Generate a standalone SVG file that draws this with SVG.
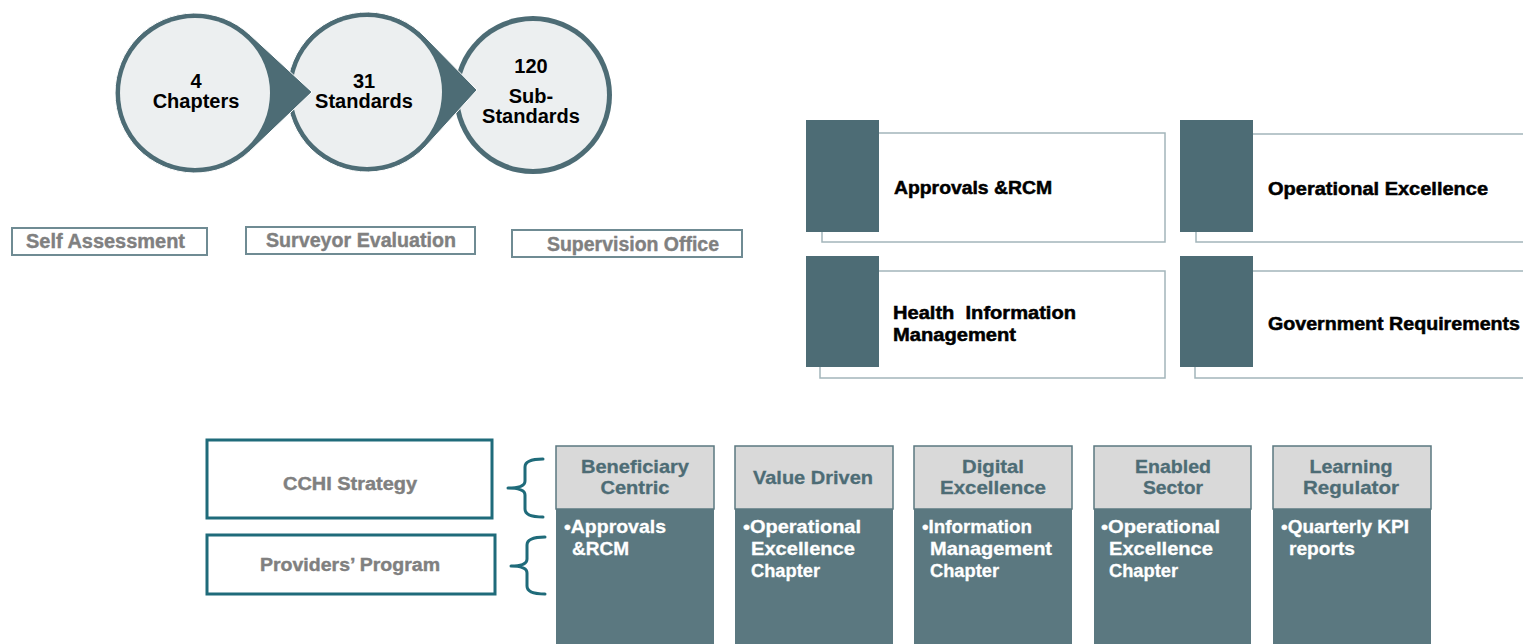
<svg xmlns="http://www.w3.org/2000/svg" width="1523" height="644" viewBox="0 0 1523 644">
  <style>
    .b { font-family: "Liberation Sans", Arial, sans-serif; font-weight: bold; }
    .dark { fill: #4D6C75; }
    .disc { fill: #ECEFF0; }
    .num { font-size: 20px; fill: #000; text-anchor: middle; }
    .tag { fill: #fff; stroke: #6F8B93; stroke-width: 2; }
    .tagtxt { font-size: 20px; fill: #808080; stroke: #808080; stroke-width: 0.4; }
    .frame { fill: #fff; stroke: #A3B5BA; stroke-width: 1.5; }
    .block { fill: #4D6C75; }
    .cardtxt { font-size: 18px; fill: #000; stroke: #000; stroke-width: 0.5; }
    .prog { fill: #fff; stroke: #1F6B7A; stroke-width: 3; }
    .progtxt { font-size: 18px; fill: #808080; stroke: #808080; stroke-width: 0.4; text-anchor: middle; }
    .brace { fill: none; stroke: #1F6B7A; stroke-width: 3; stroke-linecap: round; stroke-linejoin: round; }
    .head { fill: #D9D9D9; stroke: #5B7880; stroke-width: 1.5; }
    .body { fill: #5B7880; }
    .headtxt { font-size: 19px; fill: #4D6C75; stroke: #4D6C75; stroke-width: 0.3; text-anchor: middle; }
    .bodytxt { font-size: 19px; fill: #fff; stroke: #fff; stroke-width: 0.3; }
  </style>

  <!-- Counting chain: chapters -> standards -> sub-standards -->
  <g id="sub-standards">
    <circle class="dark" cx="533" cy="95" r="79"/>
    <circle class="disc" cx="533" cy="95" r="74"/>
    <text class="b num" x="531" y="73">120</text>
    <text class="b num" x="531" y="103">Sub-</text>
    <text class="b num" x="531" y="123">Standards</text>
  </g>
  <g id="standards">
    <path class="dark" stroke="#fff" stroke-width="1" d="M477 90 L425.2 146.9 A80 80 0 1 1 425.2 37.1 Z"/>
    <circle class="disc" cx="367" cy="92" r="75"/>
    <text class="b num" x="364" y="88">31</text>
    <text class="b num" x="364" y="108">Standards</text>
  </g>
  <g id="chapters">
    <path class="dark" stroke="#fff" stroke-width="1" d="M312 92 L249.7 151.4 A80 80 0 1 1 249.7 34.6 Z"/>
    <circle class="disc" cx="195" cy="93" r="75"/>
    <text class="b num" x="196" y="88">4</text>
    <text class="b num" x="196" y="108">Chapters</text>
  </g>

  <!-- Assessment stages -->
  <g id="self-assessment">
    <rect class="tag" x="12" y="228" width="195" height="27"/>
    <text class="b tagtxt" x="26" y="248" textLength="159" lengthAdjust="spacingAndGlyphs">Self Assessment</text>
  </g>
  <g id="surveyor-evaluation">
    <rect class="tag" x="246" y="227" width="229" height="27"/>
    <text class="b tagtxt" x="266" y="247" textLength="190" lengthAdjust="spacingAndGlyphs">Surveyor Evaluation</text>
  </g>
  <g id="supervision-office">
    <rect class="tag" x="512" y="230" width="230" height="27"/>
    <text class="b tagtxt" x="547" y="251" textLength="172" lengthAdjust="spacingAndGlyphs">Supervision Office</text>
  </g>

  <!-- Chapter cards -->
  <g id="card-approvals">
    <rect class="frame" x="822" y="133" width="343" height="109"/>
    <rect class="block" x="806" y="120" width="73" height="112"/>
    <text class="b cardtxt" x="894" y="194" textLength="158" lengthAdjust="spacingAndGlyphs">Approvals &amp;RCM</text>
  </g>
  <g id="card-health-info">
    <rect class="frame" x="820" y="271" width="345" height="107"/>
    <rect class="block" x="806" y="256" width="73" height="111"/>
    <text class="b cardtxt" x="893" y="319" xml:space="preserve" textLength="183" lengthAdjust="spacingAndGlyphs">Health  Information</text>
    <text class="b cardtxt" x="893" y="341" textLength="123" lengthAdjust="spacingAndGlyphs">Management</text>
  </g>
  <g id="card-operational">
    <rect class="frame" x="1196" y="134" width="340" height="108"/>
    <rect class="block" x="1180" y="120" width="73" height="112"/>
    <text class="b cardtxt" x="1268" y="195" textLength="220" lengthAdjust="spacingAndGlyphs">Operational Excellence</text>
  </g>
  <g id="card-government">
    <rect class="frame" x="1195" y="271" width="340" height="107"/>
    <rect class="block" x="1180" y="256" width="73" height="111"/>
    <text class="b cardtxt" x="1268" y="330" textLength="252" lengthAdjust="spacingAndGlyphs">Government Requirements</text>
  </g>

  <!-- Strategy and programme labels -->
  <g id="cchi-strategy">
    <rect class="prog" x="207" y="440" width="285" height="78"/>
    <text class="b progtxt" x="350" y="490" textLength="134" lengthAdjust="spacingAndGlyphs">CCHI Strategy</text>
  </g>
  <g id="providers-program">
    <rect class="prog" x="207" y="535" width="288" height="59"/>
    <text class="b progtxt" x="350" y="571" textLength="180" lengthAdjust="spacingAndGlyphs">Providers’ Program</text>
  </g>

  <!-- Braces linking labels to the pillar columns -->
  <g id="connectors">
    <path class="brace" d="M543 459 Q525 459 525 467 L525 481 Q525 488 508 488 Q525 488 525 495 L525 509 Q525 517 543 517"/>
    <path class="brace" d="M545 537 Q527 537 527 545 L527 559 Q527 566 511 566 Q527 566 527 573 L527 586 Q527 594 545 594"/>
  </g>

  <!-- Strategy pillars -->
  <g id="pillar-beneficiary">
    <rect class="body" x="556" y="509" width="158" height="140"/>
    <rect class="head" x="556" y="446" width="158" height="63"/>
    <text class="b headtxt" x="635" y="473" textLength="108" lengthAdjust="spacingAndGlyphs">Beneficiary</text>
    <text class="b headtxt" x="635" y="494" textLength="69" lengthAdjust="spacingAndGlyphs">Centric</text>
    <text class="b bodytxt" x="564" y="533" textLength="102" lengthAdjust="spacingAndGlyphs">•Approvals</text>
    <text class="b bodytxt" x="572" y="555" textLength="57" lengthAdjust="spacingAndGlyphs">&amp;RCM</text>
  </g>
  <g id="pillar-value">
    <rect class="body" x="735" y="509" width="158" height="140"/>
    <rect class="head" x="735" y="446" width="158" height="63"/>
    <text class="b headtxt" x="813" y="484" textLength="120" lengthAdjust="spacingAndGlyphs">Value Driven</text>
    <text class="b bodytxt" x="743" y="533" textLength="118" lengthAdjust="spacingAndGlyphs">•Operational</text>
    <text class="b bodytxt" x="751" y="555" textLength="104" lengthAdjust="spacingAndGlyphs">Excellence</text>
    <text class="b bodytxt" x="751" y="577" textLength="69" lengthAdjust="spacingAndGlyphs">Chapter</text>
  </g>
  <g id="pillar-digital">
    <rect class="body" x="914" y="509" width="158" height="140"/>
    <rect class="head" x="914" y="446" width="158" height="63"/>
    <text class="b headtxt" x="993" y="473" textLength="62" lengthAdjust="spacingAndGlyphs">Digital</text>
    <text class="b headtxt" x="993" y="494" textLength="106" lengthAdjust="spacingAndGlyphs">Excellence</text>
    <text class="b bodytxt" x="922" y="533" textLength="110" lengthAdjust="spacingAndGlyphs">•Information</text>
    <text class="b bodytxt" x="930" y="555" textLength="122" lengthAdjust="spacingAndGlyphs">Management</text>
    <text class="b bodytxt" x="930" y="577" textLength="69" lengthAdjust="spacingAndGlyphs">Chapter</text>
  </g>
  <g id="pillar-enabled">
    <rect class="body" x="1094" y="509" width="157" height="140"/>
    <rect class="head" x="1094" y="446" width="157" height="63"/>
    <text class="b headtxt" x="1173" y="473" textLength="76" lengthAdjust="spacingAndGlyphs">Enabled</text>
    <text class="b headtxt" x="1173" y="494" textLength="60" lengthAdjust="spacingAndGlyphs">Sector</text>
    <text class="b bodytxt" x="1101" y="533" textLength="119" lengthAdjust="spacingAndGlyphs">•Operational</text>
    <text class="b bodytxt" x="1109" y="555" textLength="104" lengthAdjust="spacingAndGlyphs">Excellence</text>
    <text class="b bodytxt" x="1109" y="577" textLength="69" lengthAdjust="spacingAndGlyphs">Chapter</text>
  </g>
  <g id="pillar-learning">
    <rect class="body" x="1273" y="509" width="158" height="140"/>
    <rect class="head" x="1273" y="446" width="158" height="63"/>
    <text class="b headtxt" x="1351" y="473" textLength="83" lengthAdjust="spacingAndGlyphs">Learning</text>
    <text class="b headtxt" x="1351" y="494" textLength="96" lengthAdjust="spacingAndGlyphs">Regulator</text>
    <text class="b bodytxt" x="1281" y="533" textLength="128" lengthAdjust="spacingAndGlyphs">•Quarterly KPI</text>
    <text class="b bodytxt" x="1289" y="555" textLength="66" lengthAdjust="spacingAndGlyphs">reports</text>
  </g>
</svg>
